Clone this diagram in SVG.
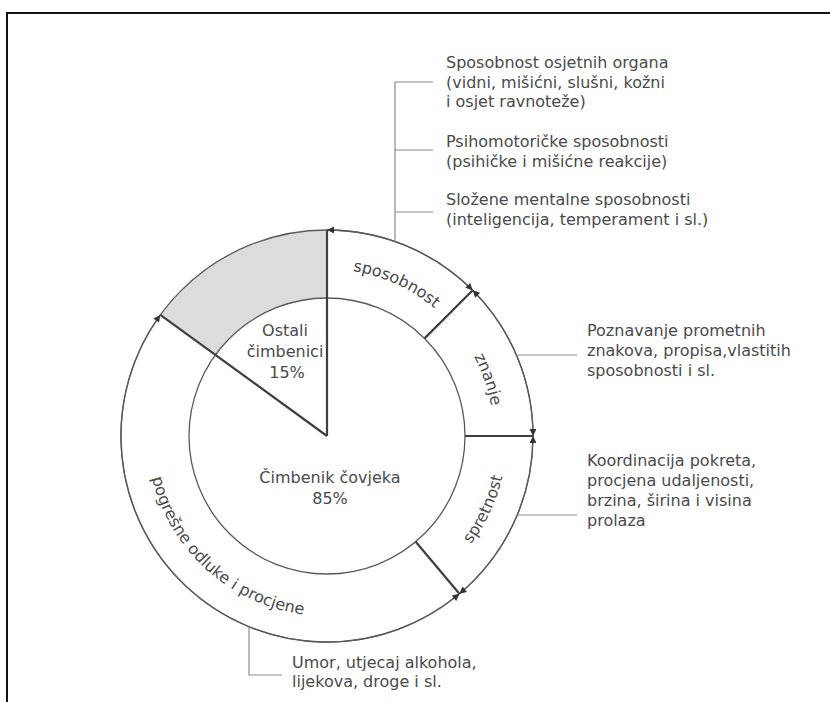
<svg xmlns="http://www.w3.org/2000/svg" width="830" height="702" viewBox="0 0 830 702">
<defs>
<style>
.t{font-family:"DejaVu Sans","Liberation Sans",sans-serif;font-size:16px;fill:#4a4a4a}
.c{text-anchor:middle}
.circ{fill:none;stroke:#5a5a5a;stroke-width:1.3}
.div{stroke:#3f3f3f;stroke-width:2.2;fill:none}
.arc{fill:none;stroke:#5a5a5a;stroke-width:1.3;marker-start:url(#ah);marker-end:url(#ah)}
.lead{fill:none;stroke:#8c8c8c;stroke-width:1.2}
</style>
<marker id="ah" viewBox="0 0 10 10" refX="10" refY="5" markerWidth="10" markerHeight="7" markerUnits="userSpaceOnUse" orient="auto-start-reverse">
<path d="M0,0 L10,5 L0,10 Z" fill="#333"/>
</marker>
<path id="pSpos" d="M282.4,275.1 A167,167 0 0 1 477.7,364.1"/>
<path id="pZnan" d="M408.0,289.9 A167,167 0 0 1 484.9,490.4"/>
<path id="pSpre" d="M403.1,599.1 A180,180 0 0 0 500.9,389.4"/>
<path id="pPogr" d="M166.6,354.3 A180,180 0 0 0 425.0,587.0"/>
</defs>
<rect width="830" height="702" fill="#ffffff"/>
<path d="M7,702 L7,13 L830,13" fill="none" stroke="#111" stroke-width="2"/>

<g id="ring">
<path d="M160.3,314.9 A206,206 0 0 1 327,230 L327,298 A138,138 0 0 0 215.4,354.9 Z" fill="#dcdcdc"/>
<circle class="circ" cx="327" cy="436" r="206"/>
<circle class="circ" cx="327" cy="436" r="138"/>
<line class="div" x1="327" y1="436" x2="327" y2="230"/>
<line class="div" x1="327" y1="436" x2="160.3" y2="314.9"/>
</g>

<g id="node-ostali">
<text class="t c" x="285" y="336">Ostali</text>
<text class="t c" x="285" y="357">čimbenici</text>
<text class="t c" x="287" y="378">15%</text>
</g>
<g id="node-covjek">
<text class="t c" x="330" y="483">Čimbenik čovjeka</text>
<text class="t c" x="330" y="504">85%</text>
</g>

<g id="node-sposobnost">
<line class="div" x1="424.6" y1="338.4" x2="472.7" y2="290.3"/>
<text class="t"><textPath href="#pSpos" startOffset="50%" text-anchor="middle">sposobnost</textPath></text>
</g>
<g id="node-znanje">
<line class="div" x1="465" y1="436" x2="533" y2="436"/>
<text class="t"><textPath href="#pZnan" startOffset="52%" text-anchor="middle">znanje</textPath></text>
</g>
<g id="node-spretnost">
<line class="div" x1="415.7" y1="541.7" x2="459.4" y2="593.8"/>
<text class="t"><textPath href="#pSpre" startOffset="50%" text-anchor="middle">spretnost</textPath></text>
</g>
<g id="node-pogresne">
<text class="t"><textPath href="#pPogr" startOffset="50%" text-anchor="middle">pogrešne odluke i procjene</textPath></text>
</g>

<g id="node-sposobnost-info">
<text class="t" x="446" y="68">Sposobnost osjetnih organa</text>
<text class="t" x="446" y="87.5">(vidni, mišićni, slušni, kožni</text>
<text class="t" x="446" y="107">i osjet ravnoteže)</text>
<text class="t" x="446" y="147">Psihomotoričke sposobnosti</text>
<text class="t" x="446" y="166.5">(psihičke i mišićne reakcije)</text>
<text class="t" x="446" y="205">Složene mentalne sposobnosti</text>
<text class="t" x="446" y="224.5">(inteligencija, temperament i sl.)</text>
</g>
<g id="node-znanje-info">
<text class="t" x="587" y="336">Poznavanje prometnih</text>
<text class="t" x="587" y="356">znakova, propisa,vlastitih</text>
<text class="t" x="587" y="376">sposobnosti i sl.</text>
</g>
<g id="node-spretnost-info">
<text class="t" x="587" y="466">Koordinacija pokreta,</text>
<text class="t" x="587" y="486">procjena udaljenosti,</text>
<text class="t" x="587" y="506">brzina, širina i visina</text>
<text class="t" x="587" y="526">prolaza</text>
</g>
<g id="node-umor-info">
<text class="t" x="292" y="668">Umor, utjecaj alkohola,</text>
<text class="t" x="292" y="687">lijekova, droge i sl.</text>
</g>

<g id="connectors">
<path class="arc" d="M327,230 A206,206 0 0 1 472.7,290.3"/>
<path class="arc" d="M472.7,290.3 A206,206 0 0 1 533,436"/>
<path class="arc" d="M533,436 A206,206 0 0 1 459.4,593.8"/>
<path class="arc" d="M459.4,593.8 A206,206 0 0 1 160.3,314.9"/>
<path class="lead" d="M395,241.5 L395,82 L433,82 M395,150 L433,150 M395,212 L433,212"/>
<path class="lead" d="M516.4,355 L577,355"/>
<path class="lead" d="M517.2,515 L577,515"/>
<path class="lead" d="M249,627 L249,675 L282,675"/>
</g>
</svg>
